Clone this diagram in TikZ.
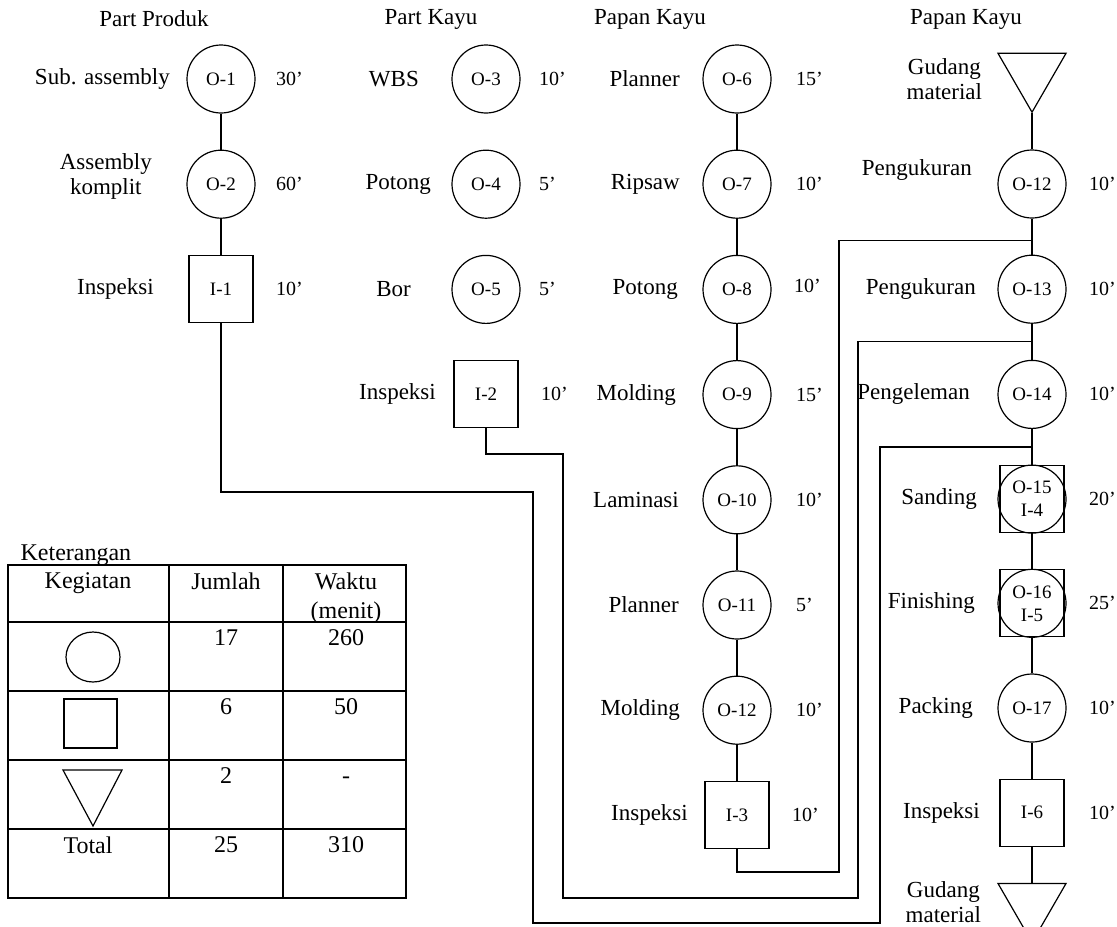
\documentclass[tikz,border=0pt]{standalone}
\usepackage{fontspec}
\setmainfont{Liberation Serif}
\usetikzlibrary{positioning,shapes.geometric,calc}

\begin{document}
\begin{tikzpicture}[
    x=0.5pt, y=-0.5pt,
    node distance=18pt,
    line width=0.6pt,
    op/.style={circle, draw, minimum size=34pt, inner sep=0pt, align=center, font=\fontsize{9.5}{11.5}\selectfont},
    insp/.style={rectangle, draw, minimum width=32pt, minimum height=33.5pt, inner sep=0pt, font=\fontsize{9.5}{11.5}\selectfont},
    store/.style={regular polygon, regular polygon sides=3, shape border rotate=180, draw, minimum size=39.3pt, inner sep=0pt},
    lbl/.style={align=center, inner sep=1pt, font=\fontsize{11.5}{12.5}\selectfont},
    tm/.style={inner sep=1pt, font=\fontsize{10}{12}\selectfont},
    title/.style={inner sep=1pt, font=\fontsize{11.5}{13}\selectfont},
    cell/.style={anchor=north, align=center, inner sep=1pt, font=\fontsize{12}{14.5}\selectfont}
]
\useasboundingbox (0,0) rectangle (1117,926);

% Part Produk
\node[title] (tprod) at (154,19) {Part Produk};
\node[op] (o1) at (221,79) {O-1};
\node[op, below=of o1] (o2) {O-2};
\node[insp, below=of o2] (i1) {I-1};
\node[lbl, left=7pt of o1] (l1) {Sub. assembly};
\node[lbl, left=16pt of o2, yshift=4pt] (l2) {Assembly\\komplit};
\node[lbl, left=16pt of i1] (li1) {Inspeksi};
\node[tm, right=9pt of o1] (t1) {30’};
\node[tm, right=9pt of o2] (t2) {60’};
\node[tm, right=10pt of i1] (ti1) {10’};

% Part Kayu
\node[title] (tpart) at (431,19) {Part Kayu};
\node[op] (o3) at (486,79) {O-3};
\node[op, below=of o3] (o4) {O-4};
\node[op, below=of o4] (o5) {O-5};
\node[insp, below=of o5] (i2) {I-2};
\node[lbl, left=15pt of o3] (l3) {WBS};
\node[lbl, left=9pt of o4] (l4) {Potong};
\node[lbl, left=19pt of o5] (l5) {Bor};
\node[lbl, left=7.5pt of i2] (li2) {Inspeksi};
\node[tm, right=8pt of o3] (t3) {10’};
\node[tm, right=8pt of o4] (t4) {5’};
\node[tm, right=8pt of o5] (t5) {5’};
\node[tm, right=10pt of i2] (ti2) {10’};

% Papan Kayu (kiri)
\node[title] (tpapan1) at (650,19) {Papan Kayu};
\node[op] (o6) at (737,79) {O-6};
\node[op, below=of o6] (o7) {O-7};
\node[op, below=of o7] (o8) {O-8};
\node[op, below=of o8] (o9) {O-9};
\node[op, below=of o9] (o10) {O-10};
\node[op, below=of o10] (o11) {O-11};
\node[op, below=of o11] (o12a) {O-12};
\node[insp, below=of o12a] (i3) {I-3};
\node[lbl, left=10pt of o6] (l6) {Planner};
\node[lbl, left=10pt of o7] (l7) {Ripsaw};
\node[lbl, left=11pt of o8] (l8) {Potong};
\node[lbl, left=12pt of o9] (l9) {Molding};
\node[lbl, left=10.5pt of o10] (l10) {Laminasi};
\node[lbl, left=10.5pt of o11] (l11) {Planner};
\node[lbl, left=10pt of o12a] (l12a) {Molding};
\node[lbl, left=7pt of i3] (li3) {Inspeksi};
\node[tm, right=11pt of o6] (t6) {15’};
\node[tm, right=11pt of o7] (t7) {10’};
\node[tm, right=10pt of o8, yshift=1.5pt] (t8) {10’};
\node[tm, right=11pt of o9] (t9) {15’};
\node[tm, right=11pt of o10] (t10) {10’};
\node[tm, right=11pt of o11] (t11) {5’};
\node[tm, right=11pt of o12a] (t12a) {10’};
\node[tm, right=10pt of i3] (ti3) {10’};

% Papan Kayu (kanan)
\node[title] (tpapan2) at (966,19) {Papan Kayu};
\node[op] (o12) at (1032,184) {O-12};
\node[store, above=of o12] (s1) {};
\node[op, below=of o12] (o13) {O-13};
\node[op, below=of o13] (o14) {O-14};
\node[insp, below=of o14] (i4) {};
\node[op] (o15) at (i4) {O-15\\I-4};
\node[insp, below=of i4] (i5) {};
\node[op] (o16) at (i5) {O-16\\I-5};
\node[op, below=of i5] (o17) {O-17};
\node[insp, below=of o17] (i6) {I-6};
\node[store, below=of i6] (s2) {};
\node[lbl, left=12pt of s1, yshift=-3pt] (ls1) {Gudang\\material};
\node[lbl, left=11.5pt of o12, yshift=7pt] (l12) {Pengukuran};
\node[lbl, left=9.5pt of o13] (l13) {Pengukuran};
\node[lbl, left=12.5pt of o14] (l14) {Pengeleman};
\node[lbl, left=10pt of i4] (l15) {Sanding};
\node[lbl, left=11pt of i5] (l16) {Finishing};
\node[lbl, left=11pt of o17] (l17) {Packing};
\node[lbl, left=8.5pt of i6] (li6) {Inspeksi};
\node[lbl, left=12.5pt of s2, yshift=0.5pt] (ls2) {Gudang\\material};
\node[tm, right=10pt of o12] (t12) {10’};
\node[tm, right=10pt of o13] (t13) {10’};
\node[tm, right=10pt of o14] (t14) {10’};
\node[tm, right=10pt of o15] (t15) {20’};
\node[tm, right=10pt of o16] (t16) {25’};
\node[tm, right=10pt of o17] (t17) {10’};
\node[tm, right=11pt of i6] (ti6) {10’};

% aliran
\draw (o1) -- (o2);
\draw (o2) -- (i1);
\draw (o6) -- (o7);
\draw (o7) -- (o8);
\draw (o8) -- (o9);
\draw (o9) -- (o10);
\draw (o10) -- (o11);
\draw (o11) -- (o12a);
\draw (o12a) -- (i3);
\draw (s1) -- (o12);
\draw (o12) -- (o13);
\draw (o13) -- (o14);
\draw (o14) -- (i4);
\draw (i4) -- (i5);
\draw (i5) -- (o17);
\draw (o17) -- (i6);
\draw (i6) -- (s2);

\coordinate (j1) at ($(o12.south)!0.6!(o13.north)$);
\coordinate (j2) at ($(o13.south)!0.5!(o14.north)$);
\coordinate (j3) at ($(o14.south)!0.5!(i4.north)$);
\draw (i3.south) |- (839,872) |- (j1);
\draw (i2.south) |- (563,454) |- (858,898) |- (j2);
\draw (i1.south) |- (533,492) |- (880,923) |- (j3);

% Keterangan
\node[anchor=base west, inner sep=0pt, font=\fontsize{12}{15}\selectfont] (ket) at (20,560) {Keterangan};
\draw (8,565) rectangle (406,898);
\draw (169,565) -- (169,898) (283,565) -- (283,898);
\draw (8,622) -- (406,622) (8,691) -- (406,691) (8,760) -- (406,760) (8,829) -- (406,829);
\node[cell] (hk) at (88,570) {Kegiatan};
\node[cell] (hj) at (226,570) {Jumlah};
\node[cell] (hw) at (346,570) {Waktu\\(menit)};
\draw (93,657) ellipse [x radius=13.5pt, y radius=12.5pt];
\draw (64,699) rectangle (117,748);
\draw (63,770) -- (122,770) -- (93,826) -- cycle;
\node[cell] (j17) at (226,627) {17};
\node[cell] (w260) at (346,627) {260};
\node[cell] (j6) at (226,696) {6};
\node[cell] (w50) at (346,696) {50};
\node[cell] (j2n) at (226,765) {2};
\node[cell] (wdash) at (346,765) {\vphantom{2}-};
\node[cell] (htot) at (88,834) {Total};
\node[cell] (j25) at (226,834) {25};
\node[cell] (w310) at (346,834) {310};

\end{tikzpicture}
\end{document}
